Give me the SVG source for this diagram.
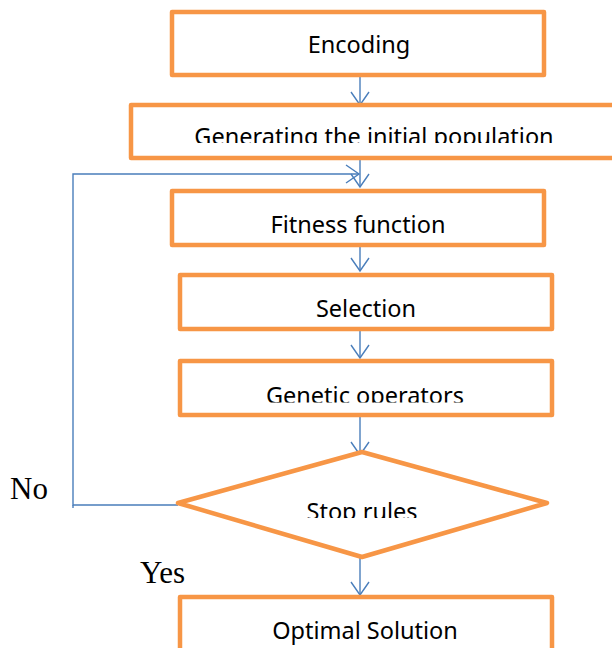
<svg xmlns="http://www.w3.org/2000/svg" width="612" height="648" viewBox="0 0 612 648">
<style>
.box{fill:#fff;stroke:#F79646;stroke-width:4.5;stroke-linejoin:round}
.lbl{font-family:"Noto Sans","Open Sans",sans-serif;font-size:23.5px;fill:#000;text-anchor:middle}
.ser{font-family:"Liberation Serif","Times New Roman",serif;font-size:31px;fill:#000}
.con{fill:none;stroke:#4A7EBB;stroke-width:1.4}
</style>
<defs>
<marker id="arr" markerUnits="userSpaceOnUse" markerWidth="24" markerHeight="24" refX="14" refY="10" orient="auto" viewBox="0 0 24 20">
<path d="M1,1 L14,10 L1,19" fill="none" stroke="#4A7EBB" stroke-width="1.4"/>
</marker>
<clipPath id="c2"><rect x="131" y="105" width="481" height="38"/></clipPath>
<clipPath id="c5"><rect x="180" y="361" width="372" height="41.5"/></clipPath>
<clipPath id="c6"><rect x="200" y="470" width="320" height="48"/></clipPath>
</defs>
<rect width="612" height="648" fill="#fff"/>
<g id="connectors">
<line class="con" x1="360" y1="77" x2="360" y2="105" marker-end="url(#arr)"/>
<line class="con" x1="360" y1="160" x2="360" y2="187" marker-end="url(#arr)"/>
<line class="con" x1="360" y1="247" x2="360" y2="271" marker-end="url(#arr)"/>
<line class="con" x1="360" y1="331" x2="360" y2="358" marker-end="url(#arr)"/>
<line class="con" x1="360" y1="417" x2="360" y2="455" marker-end="url(#arr)"/>
<line class="con" x1="360" y1="557" x2="360" y2="595" marker-end="url(#arr)"/>
<path class="con" d="M178,505 H73 V174 H359" marker-end="url(#arr)"/>
<line class="con" x1="73" y1="505" x2="73" y2="508"/>
</g>
<g id="n1"><rect class="box" x="172" y="12" width="372" height="63"/><text class="lbl" x="359" y="53">Encoding</text></g>
<g id="n2"><rect class="box" x="131" y="105" width="500" height="53"/><text class="lbl" x="374" y="145" clip-path="url(#c2)">Generating the initial population</text></g>
<g id="n3"><rect class="box" x="172" y="191" width="372" height="54"/><text class="lbl" x="358" y="233">Fitness function</text></g>
<g id="n4"><rect class="box" x="180" y="275" width="372" height="54"/><text class="lbl" x="366" y="317">Selection</text></g>
<g id="n5"><rect class="box" x="180" y="361" width="372" height="54"/><text class="lbl" x="365" y="404" clip-path="url(#c5)">Genetic operators</text></g>
<g id="n6"><polygon class="box" points="362,452 547,503 362,557 178,503"/><text class="lbl" x="362" y="520" clip-path="url(#c6)">Stop rules</text></g>
<g id="n7"><rect class="box" x="180" y="597" width="372" height="80"/><text class="lbl" x="365" y="639">Optimal Solution</text></g>
<text class="ser" x="10" y="499">No</text>
<text class="ser" x="140" y="583">Yes</text>
</svg>
